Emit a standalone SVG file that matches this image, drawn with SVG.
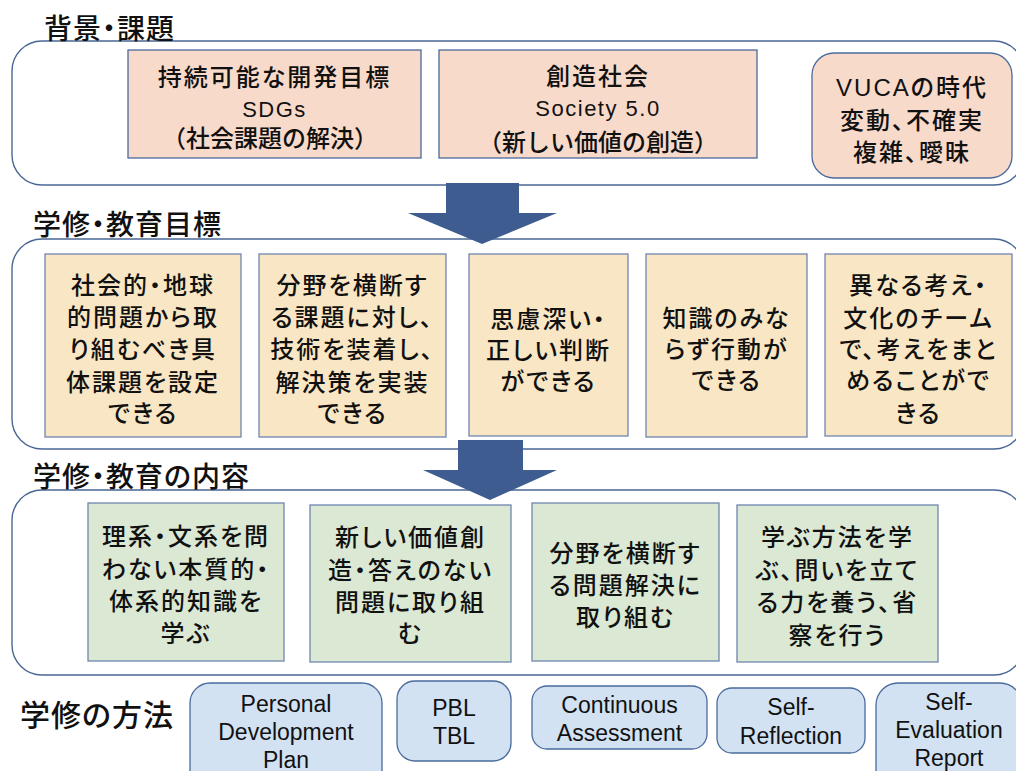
<svg xmlns="http://www.w3.org/2000/svg" width="1016" height="771" viewBox="0 0 1016 771">
<style>
.sec{fill:#fff;stroke:#4A6795;stroke-width:1.4}
.pink{fill:#F8DACB;stroke:#4A6B9C;stroke-width:1.3}
.yel{fill:#F9E6C4;stroke:#6F86B0;stroke-width:1.3}
.grn{fill:#DAE8D4;stroke:#6F86B0;stroke-width:1.3}
.blu{fill:#D2E2F2;stroke:#4A6B9C;stroke-width:1.3}
.arrow{fill:#3E5C8F}
.ttl{font-family:"Noto Sans CJK JP",sans-serif;font-size:28px;font-weight:500;fill:#111;font-feature-settings:"palt";letter-spacing:1px}
.jp{font-family:"Liberation Sans","Noto Sans CJK JP",sans-serif;font-size:24px;font-weight:500;fill:#111;text-anchor:middle;letter-spacing:2px;font-feature-settings:"palt"}
.par{font-feature-settings:normal;letter-spacing:0}
.en{font-family:"Liberation Sans",Arial,sans-serif;font-size:23px;fill:#111;text-anchor:middle}
.en2{font-family:"Liberation Sans",Arial,sans-serif;font-size:22px;fill:#111;text-anchor:middle;letter-spacing:1.5px}
</style>

<g id="section1">
<rect class="sec" x="12" y="41" width="1012" height="144" rx="30"/>
<text class="ttl" x="44" y="39">背景・課題</text>
</g>
<g id="sdgs">
<rect class="pink" x="128" y="50" width="293" height="108"/>
<text class="jp" x="274.5" y="86">持続可能な開発目標</text>
<text class="en2" x="274.5" y="117">SDGs</text>
<text class="jp par" x="270" y="147">（社会課題の解決）</text>
</g>
<g id="society">
<rect class="pink" x="439" y="50" width="318" height="108"/>
<text class="jp" x="598" y="85">創造社会</text>
<text class="en2" x="598" y="116">Society 5.0</text>
<text class="jp par" x="598" y="151">（新しい価値の創造）</text>
</g>
<g id="vuca">
<rect class="pink" x="812" y="53" width="200" height="125" rx="22"/>
<text class="jp" x="912" y="96">VUCAの時代</text>
<text class="jp" x="912" y="129">変動、不確実</text>
<text class="jp" x="912" y="161">複雑、曖昧</text>
</g>

<g id="section2">
<rect class="sec" x="12" y="239" width="1012" height="210" rx="30"/>
<text class="ttl" x="33" y="235">学修・教育目標</text>
</g>
<g id="goal1">
<rect class="yel" x="45" y="254" width="196" height="183"/>
<text class="jp" x="143" y="294">社会的・地球</text>
<text class="jp" x="143" y="326">的問題から取</text>
<text class="jp" x="143" y="358">り組むべき具</text>
<text class="jp" x="143" y="391">体課題を設定</text>
<text class="jp" x="143" y="422">できる</text>
</g>
<g id="goal2">
<rect class="yel" x="259" y="254" width="187" height="183"/>
<text class="jp" x="352.5" y="294">分野を横断す</text>
<text class="jp" x="352.5" y="326">る課題に対し、</text>
<text class="jp" x="352.5" y="358">技術を装着し、</text>
<text class="jp" x="352.5" y="391">解決策を実装</text>
<text class="jp" x="352.5" y="422">できる</text>
</g>
<g id="goal3">
<rect class="yel" x="469" y="254" width="159" height="182"/>
<text class="jp" x="548.5" y="328">思慮深い・</text>
<text class="jp" x="548.5" y="359">正しい判断</text>
<text class="jp" x="548.5" y="390">ができる</text>
</g>
<g id="goal4">
<rect class="yel" x="646" y="254" width="161" height="183"/>
<text class="jp" x="726.5" y="327">知識のみな</text>
<text class="jp" x="726.5" y="358">らず行動が</text>
<text class="jp" x="726.5" y="389">できる</text>
</g>
<g id="goal5">
<rect class="yel" x="825" y="254" width="187" height="182"/>
<text class="jp" x="918.5" y="294">異なる考え・</text>
<text class="jp" x="918.5" y="327">文化のチーム</text>
<text class="jp" x="918.5" y="358">で、考えをまと</text>
<text class="jp" x="918.5" y="389">めることがで</text>
<text class="jp" x="918.5" y="422">きる</text>
</g>

<g id="section3">
<rect class="sec" x="12" y="490" width="1012" height="185" rx="30"/>
<text class="ttl" x="33" y="487">学修・教育の内容</text>
</g>
<g id="content1">
<rect class="grn" x="88" y="503" width="196" height="158"/>
<text class="jp" x="186" y="545">理系・文系を問</text>
<text class="jp" x="186" y="578">わない本質的・</text>
<text class="jp" x="186" y="610">体系的知識を</text>
<text class="jp" x="186" y="642">学ぶ</text>
</g>
<g id="content2">
<rect class="grn" x="310" y="505" width="201" height="157"/>
<text class="jp" x="410.5" y="546">新しい価値創</text>
<text class="jp" x="410.5" y="579">造・答えのない</text>
<text class="jp" x="410.5" y="611">問題に取り組</text>
<text class="jp" x="410.5" y="642">む</text>
</g>
<g id="content3">
<rect class="grn" x="532" y="503" width="187" height="158"/>
<text class="jp" x="625.5" y="562">分野を横断す</text>
<text class="jp" x="625.5" y="594">る問題解決に</text>
<text class="jp" x="625.5" y="626">取り組む</text>
</g>
<g id="content4">
<rect class="grn" x="737" y="505" width="201" height="157"/>
<text class="jp" x="837.5" y="546">学ぶ方法を学</text>
<text class="jp" x="837.5" y="579">ぶ、問いを立て</text>
<text class="jp" x="837.5" y="611">る力を養う、省</text>
<text class="jp" x="837.5" y="644">察を行う</text>
</g>

<g id="methods-label">
<text class="ttl" x="20" y="726" style="font-size:30px">学修の方法</text>
</g>
<g id="method1">
<rect class="blu" x="190" y="683" width="192" height="110" rx="20"/>
<text class="en" x="286" y="712">Personal</text>
<text class="en" x="286" y="740">Development</text>
<text class="en" x="286" y="768">Plan</text>
</g>
<g id="method2">
<rect class="blu" x="397" y="681" width="114" height="80" rx="18"/>
<text class="en" x="454" y="716">PBL</text>
<text class="en" x="454" y="744">TBL</text>
</g>
<g id="method3">
<rect class="blu" x="532" y="686" width="175" height="63" rx="15"/>
<text class="en" x="619.5" y="713">Continuous</text>
<text class="en" x="619.5" y="741">Assessment</text>
</g>
<g id="method4">
<rect class="blu" x="717" y="688" width="148" height="65" rx="15"/>
<text class="en" x="791" y="715">Self-</text>
<text class="en" x="791" y="744">Reflection</text>
</g>
<g id="method5">
<rect class="blu" x="876" y="683" width="146" height="110" rx="22"/>
<text class="en" x="949" y="710">Self-</text>
<text class="en" x="949" y="738">Evaluation</text>
<text class="en" x="949" y="766">Report</text>
</g>

<g id="connectors">
<polygon class="arrow" points="446,183 519,183 519,213 557,213 482,244 408,213 446,213"/>
<polygon class="arrow" points="458,440 523,440 523,470 557,470 490,500 423,470 458,470"/>
</g>
</svg>
